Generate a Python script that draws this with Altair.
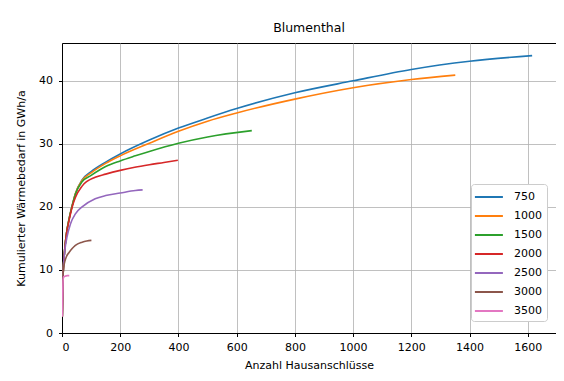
import altair as alt
import pandas as pd

series_names = ["750", "1000", "1500", "2000", "2500", "3000", "3500"]
colors = ["#1f77b4", "#ff7f0e", "#2ca02c", "#d62728", "#9467bd", "#8c564b", "#e377c2"]

x_750 = [1, 2, 3, 5, 8, 12, 17, 23, 35, 46, 69, 100, 150, 200, 300, 400, 500, 600, 800, 1000, 1200, 1400, 1615]
y_750 = [2.6, 5.5, 8.0, 10.5, 12.5, 14.5, 16.3, 17.8, 20.2, 22.1, 24.3, 25.6, 27.1, 28.4, 30.6, 32.5, 34.1, 35.6, 38.1, 40.0, 41.8, 43.1, 44.0]

x_1000 = [1, 2, 3, 5, 8, 12, 17, 23, 35, 46, 69, 100, 150, 200, 300, 400, 500, 600, 800, 1000, 1200, 1351]
y_1000 = [2.6, 5.5, 8.0, 10.5, 12.5, 14.5, 16.3, 17.8, 20.2, 22.1, 24.2, 25.4, 26.9, 28.1, 30.1, 32.0, 33.6, 34.9, 37.1, 38.9, 40.2, 40.9]

x_1500 = [1, 2, 3, 5, 8, 12, 17, 23, 35, 46, 69, 100, 150, 200, 252, 300, 400, 500, 652]
y_1500 = [2.6, 5.5, 8.0, 10.5, 12.5, 14.5, 16.3, 17.8, 20.2, 22.0, 24.0, 25.0, 26.4, 27.3, 28.1, 28.8, 30.1, 31.1, 32.1]

x_2000 = [1, 2, 3, 5, 8, 12, 17, 23, 35, 46, 69, 114, 150, 200, 250, 300, 350, 398]
y_2000 = [2.6, 5.5, 8.0, 10.5, 12.5, 14.5, 16.2, 17.6, 20.0, 21.5, 23.3, 24.7, 25.2, 25.8, 26.3, 26.7, 27.05, 27.4]

x_2500 = [1, 2, 3, 5, 8, 12, 17, 29, 46, 69, 114, 150, 200, 252, 277]
y_2500 = [2.6, 5.5, 8.0, 10.5, 12.3, 13.9, 15.2, 17.3, 18.9, 20.0, 21.3, 21.8, 22.2, 22.6, 22.7]

x_3000 = [1, 2, 3, 4, 6, 10, 15, 23, 35, 46, 69, 85, 101]
y_3000 = [2.6, 5.5, 8.0, 9.5, 10.5, 11.4, 12.1, 12.7, 13.4, 13.9, 14.4, 14.6, 14.7]

x_3500 = [1, 2, 3, 4, 6, 10, 18, 25]
y_3500 = [2.6, 5.5, 7.5, 8.5, 8.9, 9.0, 9.1, 9.1]

xs_all = [x_750, x_1000, x_1500, x_2000, x_2500, x_3000, x_3500]
ys_all = [y_750, y_1000, y_1500, y_2000, y_2500, y_3000, y_3500]

rows = []
for name, xs, ys in zip(series_names, xs_all, ys_all):
    for i, (xv, yv) in enumerate(zip(xs, ys)):
        rows.append({"Serie": name, "x": xv, "y": yv, "i": i})
df = pd.DataFrame(rows)

x_ticks = [0, 200, 400, 600, 800, 1000, 1200, 1400, 1600]
y_ticks = [0, 10, 20, 30, 40]

FONT = "DejaVu Sans"

chart = alt.Chart(df).mark_line(strokeWidth=1.6, interpolate="monotone", clip=True).encode(
    x=alt.X("x:Q", scale=alt.Scale(domain=[0, 1697], nice=False, zero=False),
            axis=alt.Axis(values=x_ticks, format="d", title="Anzahl Hausanschlüsse",
                          labelPadding=5, titlePadding=7)),
    y=alt.Y("y:Q", scale=alt.Scale(domain=[0, 46], nice=False),
            axis=alt.Axis(values=y_ticks, format="d", title="Kumulierter Wärmebedarf in GWh/a",
                          labelPadding=6, titlePadding=12)),
    color=alt.Color("Serie:N", sort=series_names,
                    scale=alt.Scale(domain=series_names, range=colors),
                    legend=alt.Legend(title=None, orient="none", legendX=409, legendY=141,
                                      symbolType="M-1.3,0H2.7", symbolSize=196, symbolStrokeWidth=2,
                                      labelFont=FONT, labelFontSize=11, labelColor="black",
                                      rowPadding=6, padding=5, fillColor="white",
                                      strokeColor="#cccccc", cornerRadius=3, labelOffset=22)),
    order="i:Q",
).properties(
    width=494, height=290,
    title=alt.TitleParams("Blumenthal", font=FONT, fontSize=12.5, fontWeight="normal", color="black", offset=9),
    autosize=alt.AutoSizeParams(type="none"),
    padding={"left": 54, "top": 35, "right": 0, "bottom": 38},
).configure_view(
    stroke="black", strokeWidth=1
).configure_axis(
    grid=True, gridColor="#b0b0b0", gridWidth=0.8,
    domainColor="black", tickColor="black", tickSize=3.5,
    labelColor="black", labelFont=FONT, labelFontSize=11,
    titleColor="black", titleFont=FONT, titleFontSize=11, titleFontWeight="normal",
)

chart.save("out.html", embed_options={"renderer": "svg", "actions": False})
